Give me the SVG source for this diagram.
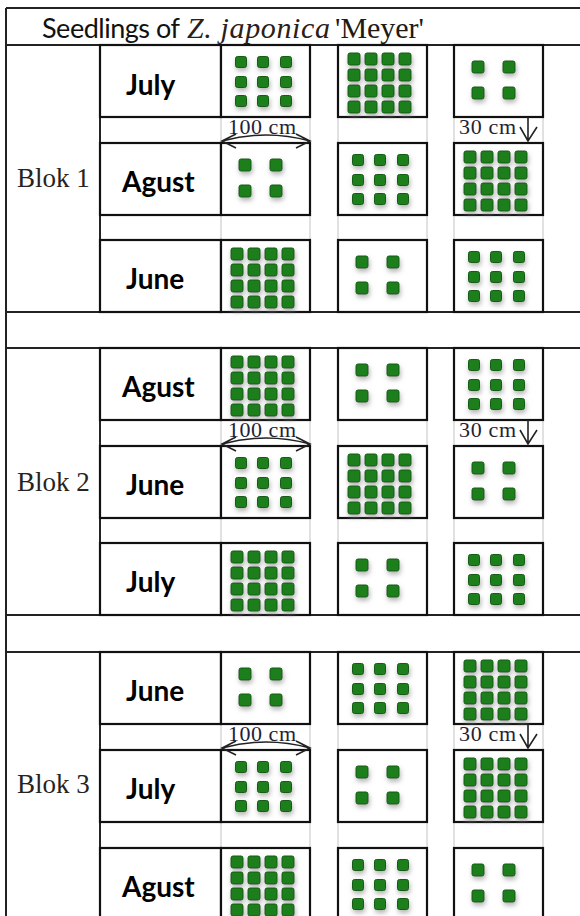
<svg xmlns="http://www.w3.org/2000/svg" width="580" height="916" viewBox="0 0 580 916">
<style>
.box{fill:#fff;stroke:#111;stroke-width:2.2}
.ln{stroke:#222;stroke-width:2;fill:none}
.faint{stroke:#d8d8d8;stroke-width:1.5}
.lbl{font-family:Lato,"Open Sans","Liberation Sans",sans-serif;font-weight:bold;font-size:28px;fill:#000}
.blok{font-family:"Liberation Serif","DejaVu Serif",serif;font-size:27px;fill:#262320}
.dim{font-family:"Liberation Serif","DejaVu Serif",serif;font-size:22px;fill:#1f2336}
.arr{stroke:#222;stroke-width:1.6;fill:none}
.sq{fill:#1f7f1f;stroke:#135c13;stroke-width:1}
</style>
<defs>
<filter id="sh" x="-30%" y="-30%" width="160%" height="170%">
<feGaussianBlur in="SourceAlpha" stdDeviation="2.8"/>
<feOffset dx="1" dy="3" result="b"/>
<feFlood flood-color="#808080" flood-opacity="0.6"/>
<feComposite in2="b" operator="in"/>
<feMerge><feMergeNode/><feMergeNode in="SourceGraphic"/></feMerge>
</filter>
<g id="p4" filter="url(#sh)">
<rect class="sq" x="18" y="16" width="12" height="12" rx="2"/>
<rect class="sq" x="49" y="16" width="12" height="12" rx="2"/>
<rect class="sq" x="18" y="42" width="12" height="12" rx="2"/>
<rect class="sq" x="49" y="42" width="12" height="12" rx="2"/>
</g>
<g id="p9" filter="url(#sh)">
<rect class="sq" x="14.5" y="11.5" width="11" height="11" rx="2"/>
<rect class="sq" x="36.5" y="11.5" width="11" height="11" rx="2"/>
<rect class="sq" x="59.5" y="11.5" width="11" height="11" rx="2"/>
<rect class="sq" x="14.5" y="31.5" width="11" height="11" rx="2"/>
<rect class="sq" x="36.5" y="31.5" width="11" height="11" rx="2"/>
<rect class="sq" x="59.5" y="31.5" width="11" height="11" rx="2"/>
<rect class="sq" x="14.5" y="50.5" width="11" height="11" rx="2"/>
<rect class="sq" x="36.5" y="50.5" width="11" height="11" rx="2"/>
<rect class="sq" x="59.5" y="50.5" width="11" height="11" rx="2"/>
</g>
<g id="p16" filter="url(#sh)">
<rect class="sq" x="10" y="8" width="12" height="12" rx="2"/>
<rect class="sq" x="27" y="8" width="12" height="12" rx="2"/>
<rect class="sq" x="44" y="8" width="12" height="12" rx="2"/>
<rect class="sq" x="61" y="8" width="12" height="12" rx="2"/>
<rect class="sq" x="10" y="24" width="12" height="12" rx="2"/>
<rect class="sq" x="27" y="24" width="12" height="12" rx="2"/>
<rect class="sq" x="44" y="24" width="12" height="12" rx="2"/>
<rect class="sq" x="61" y="24" width="12" height="12" rx="2"/>
<rect class="sq" x="10" y="40" width="12" height="12" rx="2"/>
<rect class="sq" x="27" y="40" width="12" height="12" rx="2"/>
<rect class="sq" x="44" y="40" width="12" height="12" rx="2"/>
<rect class="sq" x="61" y="40" width="12" height="12" rx="2"/>
<rect class="sq" x="10" y="56" width="12" height="12" rx="2"/>
<rect class="sq" x="27" y="56" width="12" height="12" rx="2"/>
<rect class="sq" x="44" y="56" width="12" height="12" rx="2"/>
<rect class="sq" x="61" y="56" width="12" height="12" rx="2"/>
</g>
</defs>
<rect width="580" height="916" fill="#fff"/>

<g id="header">
<text x="42" y="38" font-family="Lato,'Open Sans','Liberation Sans',sans-serif" font-size="27" fill="#111" textLength="138">Seedlings of</text>
<text x="187" y="38" font-family="'Liberation Serif','DejaVu Serif',serif" font-style="italic" font-size="30" fill="#2a2018" textLength="143">Z. japonica</text>
<text x="335" y="38" font-family="'Liberation Serif','DejaVu Serif',serif" font-size="30" fill="#1e1a16" textLength="89">'Meyer'</text>
</g>

<g id="frame">
<line class="ln" x1="6" y1="8" x2="580" y2="8" stroke="#444"/>
<line class="ln" x1="6" y1="8" x2="6" y2="916"/>
<line class="ln" x1="6" y1="45" x2="580" y2="45"/>
<line class="ln" x1="6" y1="312" x2="580" y2="312"/>
<line class="ln" x1="6" y1="348" x2="580" y2="348"/>
<line class="ln" x1="6" y1="615" x2="580" y2="615"/>
<line class="ln" x1="6" y1="652" x2="580" y2="652"/>
<line class="ln" x1="100" y1="45" x2="100" y2="312"/>
<line class="ln" x1="100" y1="348" x2="100" y2="615"/>
<line class="ln" x1="100" y1="652" x2="100" y2="916"/>
<g class="faint">
<path d="M221,117V143M310,117V143M338,117V143M427,117V143M454,117V143M543,117V143"/>
<path d="M221,215V240M310,215V240M338,215V240M427,215V240M454,215V240M543,215V240"/>
<path d="M221,420V446M310,420V446M338,420V446M427,420V446M454,420V446M543,420V446"/>
<path d="M221,518V543M310,518V543M338,518V543M427,518V543M454,518V543M543,518V543"/>
<path d="M221,724V750M310,724V750M338,724V750M427,724V750M454,724V750M543,724V750"/>
<path d="M221,822V848M310,822V848M338,822V848M427,822V848M454,822V848M543,822V848"/>
</g>
</g>

<g id="blok1">
<text class="blok" x="17" y="187">Blok 1</text>
<g id="b1-july">
<rect class="box" x="100" y="45" width="121" height="72"/>
<text class="lbl" x="126" y="95">July</text>
<rect class="box" x="221" y="45" width="89" height="72"/><use href="#p9" x="221" y="45"/>
<rect class="box" x="338" y="45" width="89" height="72"/><use href="#p16" x="338" y="45"/>
<rect class="box" x="454" y="45" width="89" height="72"/><use href="#p4" x="454" y="45"/>
</g>
<g id="b1-agust">
<rect class="box" x="100" y="143" width="121" height="72"/>
<text class="lbl" x="122" y="192">Agust</text>
<rect class="box" x="221" y="143" width="89" height="72"/><use href="#p4" x="221" y="143"/>
<rect class="box" x="338" y="143" width="89" height="72"/><use href="#p9" x="338" y="143"/>
<rect class="box" x="454" y="143" width="89" height="72"/><use href="#p16" x="454" y="143"/>
</g>
<g id="b1-june">
<rect class="box" x="100" y="240" width="121" height="72"/>
<text class="lbl" x="126" y="289">June</text>
<rect class="box" x="221" y="240" width="89" height="72"/><use href="#p16" x="221" y="240"/>
<rect class="box" x="338" y="240" width="89" height="72"/><use href="#p4" x="338" y="240"/>
<rect class="box" x="454" y="240" width="89" height="72"/><use href="#p9" x="454" y="240"/>
</g>
</g>

<g id="blok2">
<text class="blok" x="17" y="491">Blok 2</text>
<g id="b2-agust">
<rect class="box" x="100" y="348" width="121" height="72"/>
<text class="lbl" x="122" y="397">Agust</text>
<rect class="box" x="221" y="348" width="89" height="72"/><use href="#p16" x="221" y="348"/>
<rect class="box" x="338" y="348" width="89" height="72"/><use href="#p4" x="338" y="348"/>
<rect class="box" x="454" y="348" width="89" height="72"/><use href="#p9" x="454" y="348"/>
</g>
<g id="b2-june">
<rect class="box" x="100" y="446" width="121" height="72"/>
<text class="lbl" x="126" y="495">June</text>
<rect class="box" x="221" y="446" width="89" height="72"/><use href="#p9" x="221" y="446"/>
<rect class="box" x="338" y="446" width="89" height="72"/><use href="#p16" x="338" y="446"/>
<rect class="box" x="454" y="446" width="89" height="72"/><use href="#p4" x="454" y="446"/>
</g>
<g id="b2-july">
<rect class="box" x="100" y="543" width="121" height="72"/>
<text class="lbl" x="126" y="592">July</text>
<rect class="box" x="221" y="543" width="89" height="72"/><use href="#p16" x="221" y="543"/>
<rect class="box" x="338" y="543" width="89" height="72"/><use href="#p4" x="338" y="543"/>
<rect class="box" x="454" y="543" width="89" height="72"/><use href="#p9" x="454" y="543"/>
</g>
</g>

<g id="blok3">
<text class="blok" x="17" y="793">Blok 3</text>
<g id="b3-june">
<rect class="box" x="100" y="652" width="121" height="72"/>
<text class="lbl" x="126" y="701">June</text>
<rect class="box" x="221" y="652" width="89" height="72"/><use href="#p4" x="221" y="652"/>
<rect class="box" x="338" y="652" width="89" height="72"/><use href="#p9" x="338" y="652"/>
<rect class="box" x="454" y="652" width="89" height="72"/><use href="#p16" x="454" y="652"/>
</g>
<g id="b3-july">
<rect class="box" x="100" y="750" width="121" height="72"/>
<text class="lbl" x="126" y="799">July</text>
<rect class="box" x="221" y="750" width="89" height="72"/><use href="#p9" x="221" y="750"/>
<rect class="box" x="338" y="750" width="89" height="72"/><use href="#p4" x="338" y="750"/>
<rect class="box" x="454" y="750" width="89" height="72"/><use href="#p16" x="454" y="750"/>
</g>
<g id="b3-agust">
<rect class="box" x="100" y="848" width="121" height="80"/>
<text class="lbl" x="122" y="897">Agust</text>
<rect class="box" x="221" y="848" width="89" height="80"/><use href="#p16" x="221" y="848"/>
<rect class="box" x="338" y="848" width="89" height="80"/><use href="#p9" x="338" y="848"/>
<rect class="box" x="454" y="848" width="89" height="80"/><use href="#p4" x="454" y="848"/>
</g>
</g>

<g id="dimensions">
<g id="dim1">
<text class="dim" x="228" y="134" textLength="68">100 cm</text>
<path class="arr" d="M222,141 Q266,129 310,141 M236,134 L222,141 L236,148 M296,134 L310,141 L296,148"/>
<text class="dim" x="459" y="134" textLength="57">30 cm</text>
<path class="arr" d="M528,117 V141 M520,127 L528,141 L537,127"/>
</g>
<g id="dim2">
<text class="dim" x="228" y="437" textLength="68">100 cm</text>
<path class="arr" d="M222,444 Q266,432 310,444 M236,437 L222,444 L236,451 M296,437 L310,444 L296,451"/>
<text class="dim" x="459" y="437" textLength="57">30 cm</text>
<path class="arr" d="M528,420 V444 M520,430 L528,444 L537,430"/>
</g>
<g id="dim3">
<text class="dim" x="228" y="741" textLength="68">100 cm</text>
<path class="arr" d="M222,748 Q266,736 310,748 M236,741 L222,748 L236,755 M296,741 L310,748 L296,755"/>
<text class="dim" x="459" y="741" textLength="57">30 cm</text>
<path class="arr" d="M528,724 V748 M520,734 L528,748 L537,734"/>
</g>
</g>
</svg>
